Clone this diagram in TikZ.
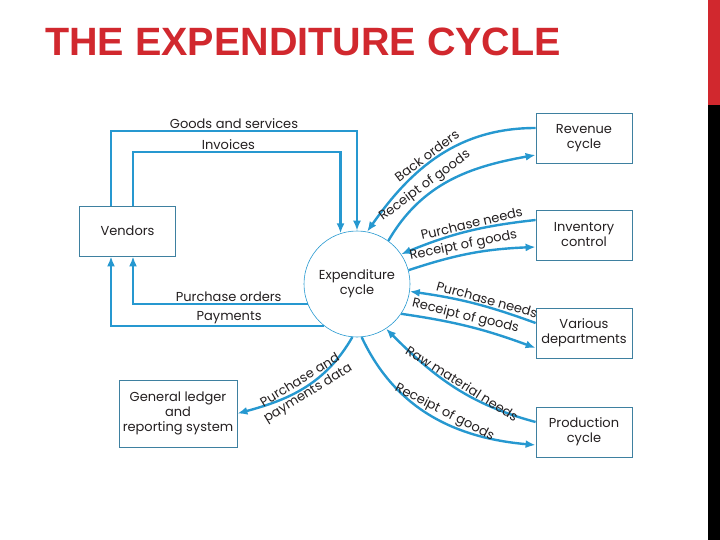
\documentclass[tikz,border=0pt]{standalone}
\usepackage{fontspec}
\setmainfont{Poppins}
\newfontfamily\titlefont{Liberation Sans}
\usepackage{tikz}
\usetikzlibrary{arrows.meta,positioning}
\definecolor{flowblue}{RGB}{38,152,208}
\definecolor{boxblue}{RGB}{62,128,160}
\definecolor{titlered}{RGB}{209,40,46}
\definecolor{ink}{RGB}{35,31,32}
\tikzstyle{box}=[draw=boxblue,line width=0.8pt,minimum width=96pt,minimum height=50pt,align=center,inner sep=2pt,text=ink,font=\fontsize{13}{15}\selectfont]
\tikzstyle{flow}=[draw=flowblue,line width=2.4pt,-{Latex[length=10pt,width=8pt]}]
\tikzstyle{lbl}=[text=ink,inner sep=1pt,font=\fontsize{13}{15}\selectfont]

\begin{document}
\begin{tikzpicture}[x=1pt,y=-1pt]
        \useasboundingbox (0,0) rectangle (720,540);
        \fill[titlered] (708,0) rectangle (720,105);
        \fill[black] (708,105) rectangle (720,540);
        \node[anchor=base west,inner sep=0,text=titlered,font=\titlefont\bfseries\fontsize{39.5}{41}\selectfont] (title) at (45,56) {THE EXPENDITURE CYCLE};

        \node[circle,draw=flowblue,line width=0.6pt,minimum size=106pt,inner sep=0,align=center,text=ink,font=\fontsize{13}{15}\selectfont] (expend) at (357,284) {Expenditure\\cycle};
        \node[box] (vendors) at (127.5,231) {Vendors};
        \node[box] (revenue) at (584,138) {Revenue\\cycle};
        \node[box] (inventory) at (584,235) {Inventory\\control};
        \node[box] (depts) at (584,333) {Various\\departments};
        \node[box] (production) at (584,432) {Production\\cycle};
        \node[box,minimum width=118pt,minimum height=67pt] (ledger) at (178,413.5) {General ledger\\and\\reporting system};

        % vendors
        \draw[flow] ([xshift=-16.5pt]vendors.north) |- (expend.north |- 0,131) node[lbl,pos=0.75,above] {Goods and services} -- (expend.north);
        \draw[flow] ([xshift=5.5pt]vendors.north) |- (expend.108 |- 0,152) node[lbl,pos=0.73,above] {Invoices} -- (expend.108);
        \draw[flow] (expend.202) -| ([xshift=5.5pt]vendors.south) node[lbl,pos=0.226,above] {Purchase orders};
        \draw[flow] (expend.232) -| ([xshift=-16.5pt]vendors.south) node[lbl,pos=0.223,above] {Payments};

        % other cycles
        \draw[flow] ([yshift=10pt]revenue.west) to[out=180,in=55] node[lbl,pos=0.55,sloped,above] {Back orders} (expend.79);
        \draw[flow] (expend.54) to[out=60,in=190] node[lbl,pos=0.36,sloped,above] {Receipt of goods} ([yshift=-17pt]revenue.west);
        \draw[flow] ([yshift=15pt]inventory.west) to[bend right=8] node[lbl,pos=0.45,sloped,above] {Purchase needs} (expend.34);
        \draw[flow] (expend.15) to[bend left=8] node[lbl,pos=0.45,sloped,above] {Receipt of goods} ([yshift=-12pt]inventory.west);
        \draw[flow] ([yshift=10pt]depts.west) to[bend right=6] node[lbl,pos=0.4,sloped,above] {Purchase needs} (expend.-8);
        \draw[flow] (expend.-34) to[bend left=6] node[lbl,pos=0.45,sloped,above] {Receipt of goods} ([yshift=-15pt]depts.west);
        \draw[flow] ([yshift=10pt]production.west) to[out=165,in=-45] node[lbl,pos=0.47,sloped,above] {Raw material needs} (expend.-57);
        \draw[flow] (expend.-85) to[out=-65,in=175] node[lbl,pos=0.55,sloped,above] {Receipt of goods} ([yshift=-13pt]production.west);
        \draw[flow] (expend.265) to[out=-120,in=15] node[lbl,pos=0.5,sloped,align=center] {Purchase and\\payments data} (ledger.east);
\end{tikzpicture}
\end{document}
